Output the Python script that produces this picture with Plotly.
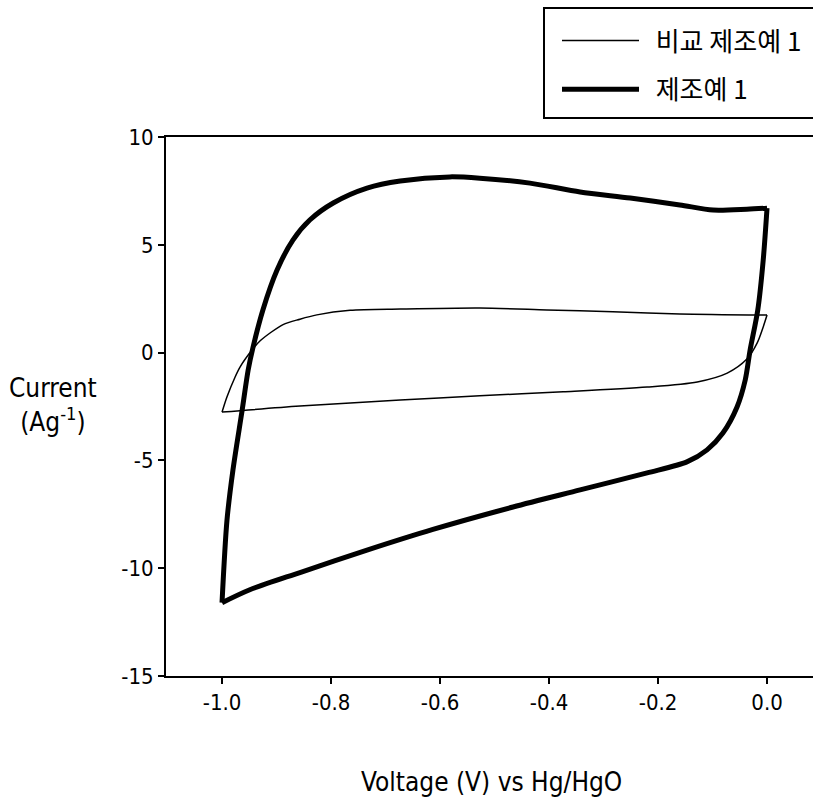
import plotly.graph_objects as go

# 제조예 1 (thick): anodic branch (-1.0 -> 0.0) then cathodic branch (0.0 -> -1.0)
thick_fwd_x = [-1.0, -0.991, -0.98, -0.963, -0.952, -0.943, -0.925, -0.899, -0.870, -0.839,
               -0.796, -0.734, -0.673, -0.582, -0.527, -0.435, -0.343, -0.251, -0.160, -0.099,
               -0.037, 0.0]
thick_fwd_y = [-11.6, -7.8, -5.45, -2.66, -0.8, 0.26, 1.98, 3.83, 5.22, 6.15,
               6.94, 7.63, 7.96, 8.15, 8.09, 7.86, 7.45, 7.17, 6.85, 6.61,
               6.65, 6.7]
thick_rev_x = [0.0, -0.007, -0.017, -0.031, -0.040, -0.055, -0.081, -0.110, -0.147,
               -0.220, -0.343, -0.466, -0.613, -0.734, -0.857, -0.949, -1.0]
thick_rev_y = [6.7, 4.29, 1.97, 0.12, -1.27, -2.52, -3.73, -4.51, -5.07,
               -5.58, -6.37, -7.16, -8.2, -9.16, -10.2, -11.0, -11.6]

# 비교 제조예 1 (thin)
thin_fwd_x = [-1.0, -0.991, -0.976, -0.967, -0.945, -0.93, -0.888, -0.857, -0.826, -0.765,
              -0.673, -0.527, -0.404, -0.283, -0.16, 0.0]
thin_fwd_y = [-2.76, -2.06, -1.13, -0.67, 0.12, 0.55, 1.30, 1.55, 1.75, 1.96,
              2.02, 2.07, 1.98, 1.89, 1.79, 1.74]
thin_rev_x = [0.0, -0.007, -0.018, -0.037, -0.073, -0.128, -0.22, -0.374, -0.527,
              -0.673, -0.857, -1.0]
thin_rev_y = [1.74, 1.19, 0.45, -0.3, -0.95, -1.36, -1.6, -1.82, -2.0,
              -2.2, -2.48, -2.76]

x_ticks = [-1.0, -0.8, -0.6, -0.4, -0.2, 0.0]
x_tick_labels = ["-1.0", "-0.8", "-0.6", "-0.4", "-0.2", "0.0"]
y_ticks = [10, 5, 0, -5, -10, -15]
y_tick_labels = ["10", "5", "0", "-5", "-10", "-15"]

names = ["비교 제조예 1", "제조예 1"]

FONT = "DejaVu Sans Condensed, DejaVu Sans, sans-serif"
KFONT = "Noto Sans CJK KR, sans-serif"
LEAD = "\u00a0\u00a0"

fig = go.Figure()
fig.add_trace(go.Scatter(x=thin_fwd_x, y=thin_fwd_y, mode="lines", name=LEAD + names[0],
                         line=dict(color="black", width=1.5, shape="spline", smoothing=0.8),
                         legendgroup="a"))
fig.add_trace(go.Scatter(x=thin_rev_x, y=thin_rev_y, mode="lines", name=LEAD + names[0],
                         line=dict(color="black", width=1.5, shape="spline", smoothing=0.8),
                         legendgroup="a", showlegend=False))
fig.add_trace(go.Scatter(x=thick_fwd_x, y=thick_fwd_y, mode="lines", name=LEAD + names[1],
                         line=dict(color="black", width=5, shape="spline", smoothing=0.8),
                         legendgroup="b"))
fig.add_trace(go.Scatter(x=thick_rev_x, y=thick_rev_y, mode="lines", name=LEAD + names[1],
                         line=dict(color="black", width=5, shape="spline", smoothing=0.8),
                         legendgroup="b", showlegend=False))

W, H = 813, 804
L, T = 166, 137
B = H - 676
PW, PH = W - L, H - T - B
x_lo = -1.1028
x_hi = x_lo + PW / 545.0


def px(xf):
    return (xf - L) / PW


def py(yf):
    return (H - B - yf) / PH


# legend frame: open on the right (runs off the page like the original)
bx0, bx1, by0, by1 = px(544), px(W + 40), py(8), py(118)
frame_path = f"M {bx1},{by0} L {bx0},{by0} L {bx0},{by1} L {bx1},{by1}"

fig.update_layout(
    width=W, height=H,
    margin=dict(l=L, r=0, t=T, b=B, autoexpand=False),
    paper_bgcolor="white", plot_bgcolor="white",
    font=dict(family=FONT, color="black", size=22),
    showlegend=True,
    legend=dict(
        x=px(557), y=py(17), xanchor="left", yanchor="top",
        borderwidth=0, bgcolor="rgba(0,0,0,0)",
        font=dict(family=KFONT, size=26, color="black"),
        itemwidth=77, tracegroupgap=12,
    ),
    shapes=[
        dict(type="path", xref="paper", yref="paper", path=frame_path,
             line=dict(color="black", width=2), layer="below"),
    ],
    xaxis=dict(
        range=[x_lo, x_hi], tickvals=x_ticks, ticktext=x_tick_labels,
        showgrid=False, zeroline=False, showline=True, linecolor="black", linewidth=2,
        mirror=True, ticks="outside", ticklen=6, tickwidth=1.5, tickcolor="black",
        tickfont=dict(size=22),
    ),
    yaxis=dict(
        range=[-15, 10], tickvals=y_ticks, ticktext=y_tick_labels,
        showgrid=False, zeroline=False, showline=True, linecolor="black", linewidth=2,
        ticks="outside", ticklen=6, tickwidth=1.5, tickcolor="black",
        tickfont=dict(size=22),
    ),
    annotations=[
        dict(text="Current<br>(Ag<sup>-1</sup>)", xref="paper", yref="paper",
             x=px(53), y=py(405),
             xanchor="center", yanchor="middle", showarrow=False,
             font=dict(size=26)),
        dict(text="Voltage (V) vs Hg/HgO", xref="paper", yref="paper",
             x=px(491), y=py(782),
             xanchor="center", yanchor="middle", showarrow=False,
             font=dict(size=26)),
    ],
)

fig.write_html("out.html", config={"displayModeBar": False},
               post_script="document.body.style.margin='0';document.body.style.overflow='hidden';")
